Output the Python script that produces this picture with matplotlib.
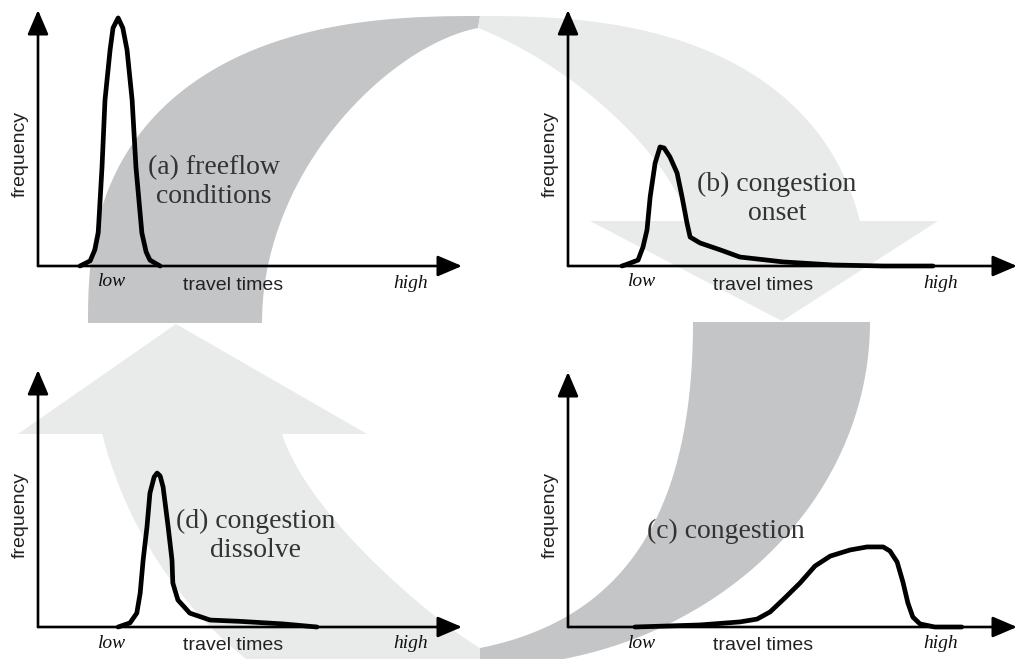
import numpy as np
import matplotlib
matplotlib.use("Agg")
import matplotlib.pyplot as plt
from matplotlib.patches import Polygon

W, H = 1018, 659

# --- curve data: travel time / frequency in % of the axis length ---
a_time = [9.9, 12.3, 13.4, 14.2, 15.1, 15.8, 17.0, 17.7, 18.9, 20.0, 21.0, 22.2, 23.1, 24.5, 25.5, 26.4, 28.8]
a_freq = [0, 2.0, 6.3, 12.9, 38.7, 64.8, 84.4, 93.0, 96.9, 93.0, 84.4, 64.8, 38.7, 12.9, 5.5, 2.3, 0]

b_time = [12.0, 12.7, 15.6, 16.7, 17.6, 18.3, 19.4, 20.5, 21.4, 22.7, 24.3, 25.4, 26.5, 27.2,
          29.4, 33.9, 38.3, 47.9, 59.0, 70.2, 81.3]
b_freq = [0, 0.4, 2.3, 7.4, 14.1, 27.0, 40.2, 46.5, 46.1, 42.6, 36.3, 27.0, 16.8, 11.3,
          9.0, 6.3, 3.5, 1.6, 0.4, 0, 0]

c_time = [14.9, 29.4, 38.3, 42.1, 45.0, 48.3, 51.7, 55.0, 58.4, 62.8, 66.6, 70.2, 71.7, 73.3,
          74.6, 75.7, 76.8, 78.4, 81.7, 87.7]
c_freq = [0, 0.8, 2.0, 3.1, 5.9, 11.4, 17.3, 23.9, 27.8, 30.2, 31.4, 31.4, 29.8, 25.5,
          17.6, 9.4, 3.9, 1.2, 0, 0]

d_time = [18.9, 21.7, 23.3, 24.1, 24.8, 25.7, 26.4, 27.4, 28.1, 28.8, 29.5, 30.7, 31.6, 31.8,
          33.0, 35.8, 40.6, 47.6, 57.8, 65.8]
d_freq = [0, 1.6, 5.4, 13.2, 26.1, 38.9, 52.1, 58.4, 59.9, 58.8, 54.5, 38.9, 26.1, 17.1,
          10.5, 5.4, 2.7, 2.2, 1.2, 0]

panel_keys = ["a", "b", "c", "d"]
curves = {"a": (a_time, a_freq), "b": (b_time, b_freq),
          "c": (c_time, c_freq), "d": (d_time, d_freq)}
panel_titles = {"a": "(a) freeflow\nconditions", "b": "(b) congestion\nonset",
                "c": "(c) congestion", "d": "(d) congestion\ndissolve"}

# panel geometry in pixels: origin x, baseline y, x-axis end, y-axis top
geom = {"a": (38, 266, 462, 10), "b": (568, 266, 1017, 10),
        "c": (568, 627, 1017, 372), "d": (38, 627, 462, 370)}
title_pos = {"a": (214, 182), "b": (777, 199), "c": (726, 531), "d": (256, 536)}

DARK = "#c4c5c7"
LIGHT = "#e9eaea"

fig = plt.figure(figsize=(W / 100, H / 100), dpi=100)
bg = fig.add_axes([0, 0, 1, 1])
bg.set_xlim(0, W)
bg.set_ylim(H, 0)
bg.axis("off")


def quarter(cx, cy, a, b, p, sx, sy, t0, t1, n=90):
    t = np.linspace(t0, t1, n)
    x = cx + sx * a * np.cos(t) ** (2 / p)
    y = cy + sy * b * np.sin(t) ** (2 / p)
    return np.column_stack([x, y])


def t_at(dy, b, p):
    return np.arcsin(min(1.0, (dy / b) ** (p / 2)))


def bezier(p0, p1, p2, p3, n=80):
    t = np.linspace(0, 1, n)[:, None]
    pts = [np.array(p, float) for p in (p0, p1, p2, p3)]
    return ((1 - t) ** 3 * pts[0] + 3 * (1 - t) ** 2 * t * pts[1]
            + 3 * (1 - t) * t ** 2 * pts[2] + t ** 3 * pts[3])


# top arrow: dark part (rising on the left)
outer = quarter(480, 323, 392, 307, 2.5, -1, -1, 0, np.pi / 2)
inner = bezier((478, 28), (390, 45), (262, 170), (262, 323))
bg.add_patch(Polygon(np.vstack([outer, inner]), closed=True, fc=DARK, ec="none"))

# top arrow: light part with head pointing down to (b)
base_b = 221
outer = quarter(480, 323, 390, 307, 2.5, 1, -1, np.pi / 2, t_at(323 - base_b, 307, 2.5))
inner = bezier((690, base_b), (660, 140), (560, 60), (478, 28))
head = np.array([[938, base_b], [782, 321], [590, base_b]])
bg.add_patch(Polygon(np.vstack([outer, head, inner]), closed=True, fc=LIGHT, ec="none"))

# bottom arrow: dark part (falling on the right)
outer = quarter(480, 322, 390, 345, 2.0, 1, 1, 0, np.pi / 2)
inner = bezier((480, 648), (620, 620), (693, 520), (693, 322))
bg.add_patch(Polygon(np.vstack([outer, inner]), closed=True, fc=DARK, ec="none"))

# bottom arrow: light part with head pointing up to (a)
base_d = 434
outer = quarter(480, 322, 392, 420, 2.0, -1, 1, np.pi / 2, t_at(base_d - 322, 420, 2.0))
inner = bezier((282, base_d), (310, 520), (440, 625), (480, 648))
head = np.array([[18, base_d], [176, 324], [367, base_d]])
bg.add_patch(Polygon(np.vstack([outer, head, inner]), closed=True, fc=LIGHT, ec="none"))

sans = "Liberation Sans"
serif = "Liberation Serif"

for k in panel_keys:
    x0, y0, x1, y1 = geom[k]
    ax = fig.add_axes([x0 / W, 1 - y0 / H, (x1 - x0) / W, (y0 - y1) / H])
    ax.set_xlim(0, 100)
    ax.set_ylim(0, 100)
    ax.axis("off")
    ax.patch.set_alpha(0)
    arrow = dict(arrowstyle="-|>,head_length=0.75,head_width=0.32", lw=1.9,
                 color="black", shrinkA=0, shrinkB=0, mutation_scale=20)
    ax.annotate("", xy=(1, 0), xytext=(0, 0), xycoords="axes fraction", arrowprops=arrow)
    ax.annotate("", xy=(0, 1), xytext=(0, 0), xycoords="axes fraction", arrowprops=arrow)
    tx, fy = curves[k]
    ax.plot(tx, fy, color="black", lw=3.4, solid_joinstyle="round",
            solid_capstyle="round", clip_on=False)

    # labels
    bg.text(x0 - 18, y0 - 112, "frequency", rotation=90, ha="center", va="center",
            fontsize=14, family=sans, color="#222222")
    bg.text(x0 + 195, y0 + 19, "travel times", ha="center", va="center",
            fontsize=14, family=sans, color="#222222")
    bg.text(x0 + 74, y0 + 16, "low", ha="center", va="center", fontsize=14,
            family=serif, style="italic", color="#111111")
    bg.text(x0 + 373, y0 + 17, "high", ha="center", va="center", fontsize=14,
            family=serif, style="italic", color="#111111")
    tx_, ty_ = title_pos[k]
    bg.text(tx_, ty_, panel_titles[k], ha="center", va="center", fontsize=20,
            family=serif, color="#333333", linespacing=1.2, multialignment="center")

fig.savefig("out.png", dpi=100, facecolor="white")
